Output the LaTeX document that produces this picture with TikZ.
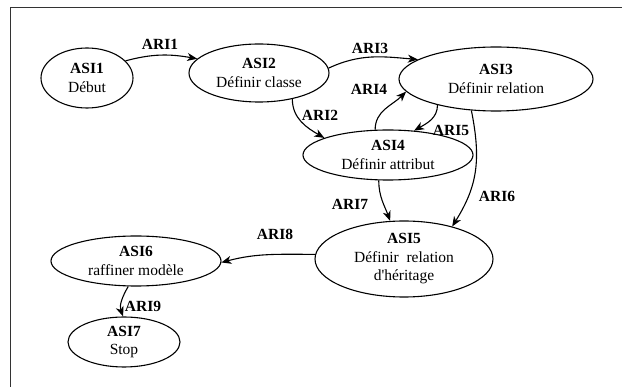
\documentclass[tikz,border=0pt]{standalone}
\usepackage{fontspec}
\setmainfont{Liberation Serif}
\newfontfamily\plainserif{Liberation Serif}
\usetikzlibrary{shapes.geometric,arrows.meta}
\begin{document}
\begin{tikzpicture}[x=1pt,y=1pt,
  state/.style={ellipse,draw,line width=1.1pt,inner sep=0pt,align=center,
    font=\fontsize{15.5}{18.5}\selectfont},
  conn/.style={line width=1.1pt,-{Stealth[length=10pt,width=8pt,inset=3pt]}},
  lab/.style={font=\fontsize{15.5}{18.5}\selectfont\bfseries,inner sep=0pt}]
\useasboundingbox (0,0) rectangle (622,-387);
\draw[line width=1.5pt,black!80] (10.5,-387) -- (10.5,-7.5) -- (622,-7.5);

\node[state,minimum width=92pt,minimum height=60pt] (a1) at (87,-78) {\textbf{ASI1}\\Début};
\node[state,minimum width=140pt,minimum height=58pt] (a2) at (259,-73) {\textbf{ASI2}\\Définir classe};
\node[state,minimum width=194pt,minimum height=64pt] (a3) at (496,-79) {\textbf{ASI3}\\Définir relation};
\node[state,minimum width=170pt,minimum height=50pt] (a4) at (388,-155) {\textbf{ASI4}\\Définir attribut};
\node[state,minimum width=178pt,minimum height=76pt] (a5) at (404,-259) {\textbf{ASI5}\\Définir\ \ relation\\d{\plainserif'}héritage};
\node[state,minimum width=170pt,minimum height=50pt] (a6) at (136,-261) {\textbf{ASI6}\\raffiner modèle};
\node[state,minimum width=112pt,minimum height=50pt] (a7) at (124,-342) {\textbf{ASI7}\\Stop};

\draw[conn] (a1.24) to[out=15,in=170] (a2.167);
\draw[conn] (a2.-38) to[out=-90,in=150] (a4.165);
\draw[conn] (a2.4) to[out=25,in=175] (a3.166);
\draw[conn] (a4.117) to[out=90,in=225] (a3.188);
\draw[conn] (a3.204) to[out=-90,in=30] (a4.43);
\draw[conn] (a3.232) .. controls +(10,-50) and +(25,40) .. (a5.34);
\draw[conn] (a4.250) to[out=-90,in=110] (a5.110);
\draw[conn] (a5.177) to[out=180,in=15] (a6.-1);
\draw[conn] (a6.253) to[out=240,in=110] (a7.92);

\node[lab] (l1) at (160,-44) {ARI1};
\node[lab] (l2) at (320,-115) {ARI2};
\node[lab] (l3) at (370,-48) {ARI3};
\node[lab] (l4) at (369,-89) {ARI4};
\node[lab] (l5) at (451,-130) {ARI5};
\node[lab] (l6) at (497,-196) {ARI6};
\node[lab] (l7) at (350,-204) {ARI7};
\node[lab] (l8) at (275,-234) {ARI8};
\node[lab] (l9) at (143,-306) {ARI9};
\end{tikzpicture}
\end{document}
